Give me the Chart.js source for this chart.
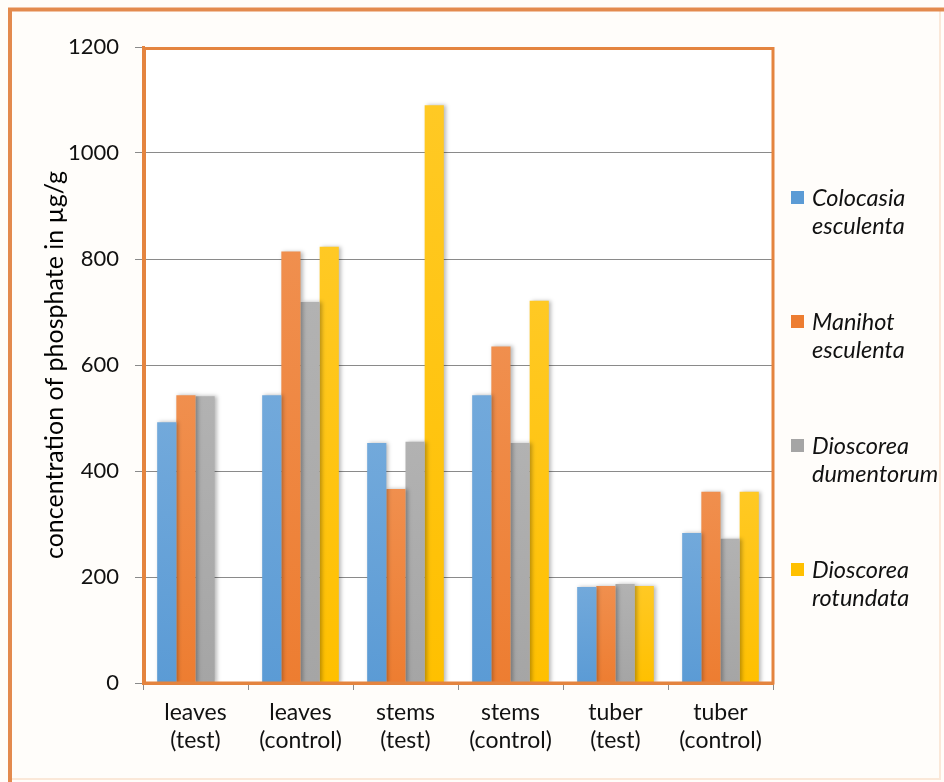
<!DOCTYPE html>
<html>
<head>
<meta charset="utf-8">
<title>Phosphate concentration</title>
<script src="https://cdn.jsdelivr.net/npm/chart.js@4.4.0/dist/chart.umd.min.js"></script>
<style>
  html, body { margin: 0; padding: 0; background: #fffdfa; }
  #wrap { width: 944px; height: 782px; }
  canvas { display: block; }
</style>
</head>
<body>
<div id="wrap"><canvas id="phosChart" width="944" height="782"></canvas></div>
<script>
  const categories = [
    ['leaves', '(test)'],
    ['leaves', '(control)'],
    ['stems', '(test)'],
    ['stems', '(control)'],
    ['tuber', '(test)'],
    ['tuber', '(control)']
  ];

  const seriesNames = ['Colocasia esculenta', 'Manihot esculenta', 'Dioscorea dumentorum', 'Dioscorea rotundata'];
  const colocasia = [492, 543, 453, 543, 181, 283];
  const manihot = [543, 814, 366, 635, 183, 361];
  const dumentorum = [541, 719, 455, 453, 187, 272];
  const rotundata = [null, 823, 1090, 721, 183, 361];

  const yTicks = [0, 200, 400, 600, 800, 1000, 1200];

  const palette = ['#5b9bd5', '#ed7d31', '#a5a5a5', '#ffc000'];
  const frameOrange = '#e4843f';
  const gridGrey = '#8a8a8a';
  const textFont = 'Lato, "Open Sans", sans-serif';

  function lighten(hex, amt) {
    const n = parseInt(hex.slice(1), 16);
    const r = (n >> 16) & 255, g = (n >> 8) & 255, b = n & 255;
    const f = c => Math.round(c + (255 - c) * amt);
    return `rgb(${f(r)},${f(g)},${f(b)})`;
  }

  // each bar gets its own vertical gradient, a bit lighter at its top
  function barFill(color) {
    return function (context) {
      const chart = context.chart;
      if (!chart.chartArea || context.raw == null) return color;
      const y = chart.scales.y;
      const top = y.getPixelForValue(context.raw);
      const bottom = y.getPixelForValue(0);
      if (!isFinite(top) || bottom - top < 1) return color;
      const g = chart.ctx.createLinearGradient(0, top, 0, bottom);
      g.addColorStop(0, lighten(color, 0.14));
      g.addColorStop(1, color);
      return g;
    };
  }

  const pageFrame = {
    id: 'pageFrame',
    beforeDraw(chart) {
      const { ctx, width, height, chartArea } = chart;
      ctx.save();
      ctx.fillStyle = '#fffdfa';
      ctx.fillRect(0, 0, width, height);
      ctx.fillStyle = '#ffffff';
      ctx.fillRect(chartArea.left, chartArea.top, chartArea.right - chartArea.left, chartArea.bottom - chartArea.top);
      // soft right and bottom edges
      ctx.strokeStyle = '#fbe8d8';
      ctx.lineWidth = 2;
      ctx.beginPath();
      ctx.moveTo(10, 779);
      ctx.lineTo(940, 779);
      ctx.lineTo(940, 9);
      ctx.stroke();
      // strong left and top edges
      ctx.strokeStyle = '#e38a4e';
      ctx.lineWidth = 4;
      ctx.beginPath();
      ctx.moveTo(10, 782);
      ctx.lineTo(10, 9.5);
      ctx.lineTo(944, 9.5);
      ctx.stroke();
      ctx.restore();
    }
  };

  const barShadow = {
    id: 'barShadow',
    beforeDatasetsDraw(chart) {
      const ctx = chart.ctx;
      ctx.save();
      ctx.shadowColor = 'rgba(0,0,0,0.28)';
      ctx.shadowBlur = 4;
      ctx.shadowOffsetX = 2;
      ctx.shadowOffsetY = 0;
    },
    afterDatasetsDraw(chart) {
      chart.ctx.restore();
    }
  };

  const plotBorder = {
    id: 'plotBorder',
    afterDraw(chart) {
      const { ctx, chartArea: a } = chart;
      ctx.save();
      ctx.strokeStyle = frameOrange;
      ctx.lineWidth = 3;
      ctx.strokeRect(a.left + 1.5, a.top + 1.5, a.right - a.left - 1.5, a.bottom - a.top - 1.5);
      ctx.restore();
    }
  };

  // two-line italic legend stacked on the right
  const sideLegend = {
    id: 'sideLegend',
    afterDraw(chart) {
      const ctx = chart.ctx;
      const x = chart.chartArea.right + 18;
      let y = 198;
      ctx.save();
      ctx.font = `italic 23.5px ${textFont}`;
      ctx.textBaseline = 'middle';
      chart.data.datasets.forEach((ds, i) => {
        ctx.fillStyle = palette[i];
        ctx.fillRect(x, y - 7, 13, 13);
        ctx.fillStyle = '#111';
        const words = ds.label.split(' ');
        words.forEach((w, j) => ctx.fillText(w, x + 21, y + j * 28));
        y += 124;
      });
      ctx.restore();
    }
  };

  const seriesValues = [colocasia, manihot, dumentorum, rotundata];

  new Chart(document.getElementById('phosChart'), {
    type: 'bar',
    data: {
      labels: categories,
      datasets: seriesValues.map((vals, i) => ({
        label: seriesNames[i],
        data: vals,
        backgroundColor: barFill(palette[i]),
        borderWidth: 0,
        categoryPercentage: 0.73,
        barPercentage: 1.0
      }))
    },
    options: {
      responsive: false,
      animation: false,
      layout: { padding: { top: 47, right: 171, left: 0, bottom: 0 } },
      plugins: {
        legend: { display: false },
        tooltip: { enabled: false }
      },
      scales: {
        x: {
          afterFit(scale) { scale.height = 99; },
          grid: {
            display: true,
            drawOnChartArea: false,
            drawTicks: true,
            tickLength: 7,
            color: gridGrey,
            offset: true
          },
          border: { color: frameOrange, width: 3 },
          ticks: {
            padding: 8,
            color: '#111',
            font: { family: textFont, size: 23, lineHeight: 1.24 },
            maxRotation: 0,
            autoSkip: false
          }
        },
        y: {
          min: 0,
          max: 1200,
          afterFit(scale) { scale.width = 143; },
          afterBuildTicks(scale) { scale.ticks = yTicks.map(v => ({ value: v })); },
          grid: {
            color: gridGrey,
            lineWidth: 1,
            tickLength: 8,
            drawTicks: true
          },
          border: { color: frameOrange, width: 3 },
          ticks: {
            padding: 16,
            color: '#111',
            font: { family: textFont, size: 22 },
            callback: v => String(v)
          },
          title: {
            display: true,
            text: 'concentration of phosphate in µg/g',
            color: '#000',
            font: { family: textFont, size: 25 },
            padding: { top: 40, bottom: 0 }
          }
        }
      }
    },
    plugins: [pageFrame, barShadow, plotBorder, sideLegend]
  });
</script>
</body>
</html>
